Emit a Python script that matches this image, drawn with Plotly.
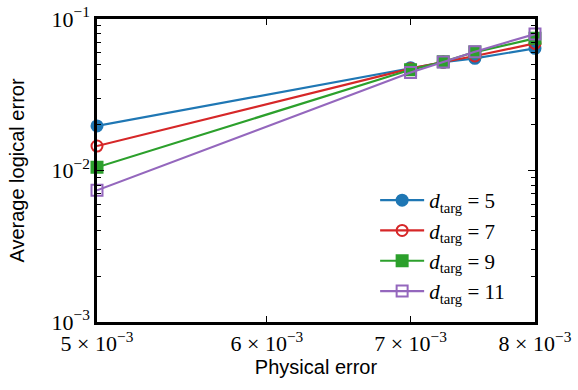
import plotly.graph_objects as go

phys = [5e-3, 7e-3, 7.25e-3, 7.5e-3, 8e-3]
d5 = [0.0197, 0.0477, 0.0518, 0.0550, 0.0640]
d7 = [0.0145, 0.0470, 0.0520, 0.0570, 0.0690]
d9 = [0.0105, 0.0462, 0.0522, 0.0605, 0.0745]
d11 = [0.0074, 0.0443, 0.0520, 0.0608, 0.0796]

series = [
    ("5", d5, "#1f77b4", "circle"),
    ("7", d7, "#d62728", "circle-open"),
    ("9", d9, "#2ca02c", "square"),
    ("11", d11, "#9467bd", "square-open"),
]

xticks = [5e-3, 6e-3, 7e-3, 8e-3]
xticklabels = ["5 × 10<sup>−3</sup>", "6 × 10<sup>−3</sup>", "7 × 10<sup>−3</sup>", "8 × 10<sup>−3</sup>"]
yticks = [1e-3, 1e-2, 1e-1]
yticklabels = ["10<sup>−3</sup>", "10<sup>−2</sup>", "10<sup>−1</sup>"]
yminor = [m * 10**e for e in (-3, -2) for m in range(2, 10)]

fig = go.Figure()
for lab, vals, col, sym in series:
    fig.add_trace(go.Scatter(
        x=phys, y=vals, mode="lines+markers",
        name="<i>d</i><sub>targ</sub> = " + lab,
        line=dict(color=col, width=2.2),
        marker=dict(symbol=sym, size=11, color=col, line=dict(color=col, width=2)),
        cliponaxis=False,
    ))

serif = "Liberation Serif"
fig.update_layout(
    width=578, height=390,
    margin=dict(l=97, r=43, t=19, b=68),
    plot_bgcolor="white", paper_bgcolor="white",
    showlegend=True,
    legend=dict(x=0.635, y=0.033, xanchor="left", yanchor="bottom",
                bgcolor="rgba(255,255,255,0)",
                font=dict(family=serif, size=21, color="black"),
                tracegroupgap=0, itemwidth=44),
    font=dict(family="Liberation Sans", color="black"),
)
fig.update_xaxes(
    type="log", range=[0.69897 - 3, 0.90309 - 3], automargin=False,
    tickmode="array", tickvals=xticks, ticktext=xticklabels,
    ticks="inside", ticklen=6, tickwidth=1.2, tickcolor="black",
    showline=True, linecolor="black", linewidth=2.5, mirror="ticks",
    showgrid=False, zeroline=False,
    tickfont=dict(family=serif, size=22, color="black"),
    title=dict(text="Physical error", font=dict(family="Liberation Sans", size=20), standoff=4),
)
fig.update_yaxes(
    type="log", range=[-3, -1], automargin=False,
    tickmode="array", tickvals=yticks, ticktext=yticklabels,
    ticks="inside", ticklen=7, tickwidth=1.2, tickcolor="black",
    minor=dict(tickmode="array", tickvals=yminor, ticks="inside", ticklen=4, tickwidth=1, tickcolor="black"),
    showline=True, linecolor="black", linewidth=2.5, mirror="ticks",
    showgrid=False, zeroline=False,
    tickfont=dict(family=serif, size=22, color="black"),
    title=dict(text="Average logical error", font=dict(family="Liberation Sans", size=20), standoff=22),
)
fig.write_html("out.html")
